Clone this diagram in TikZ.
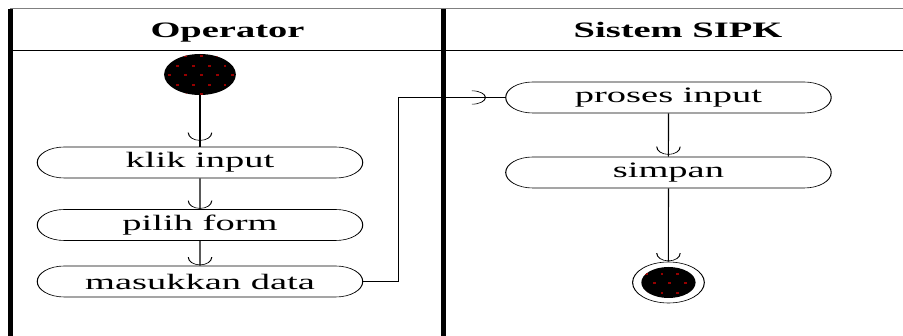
\documentclass[tikz,border=0pt]{standalone}
\usepackage{fontspec}
\setmainfont{Liberation Serif}
\usetikzlibrary{shapes.misc,arrows.meta,decorations.markings}

\definecolor{merah}{RGB}{150,0,0}

% red dots on the black start/end discs
\newcommand\titikmerah{%
  \foreach \r in {-3,...,3}{
    \foreach \c in {-4,...,4}{
      \fill[merah] ([xshift={\c*9pt+mod(\r,2)*4.5pt}, yshift=\r*9.5pt]path picture bounding box.center) rectangle ++(1.6pt,-1.8pt);
    }
  }%
}

\begin{document}
\begin{tikzpicture}[x=1pt, y=-1pt,
    aksi/.style={rounded rectangle, draw, line width=0.6pt, minimum width=186pt, minimum height=31pt, inner sep=0pt, font=\fontsize{22}{26}\selectfont},
    judul/.style={font=\bfseries\fontsize{22}{26}\selectfont, anchor=base},
    mulai/.style={circle, fill=black, minimum size=41pt, inner sep=0pt, path picture={\titikmerah}},
    akhir/.style={circle, draw, line width=0.6pt, minimum size=41pt, inner sep=0pt,
        path picture={\fill[black] (path picture bounding box.center) circle (15.5pt);
                      \clip (path picture bounding box.center) circle (15.5pt); \titikmerah}},
    flow/.style={line width=0.6pt, postaction={decorate},
        decoration={markings, mark=at position -#1 with {\arrow{Arc Barb[width=14pt,length=8pt]}}}},
    flow/.default=0.5pt]

    \useasboundingbox (0,0) rectangle (903,336);

    \begin{scope}[transform canvas={xscale=1.75}, x=0.5714pt]

        % swimlanes
        \draw[gray, line width=1pt] (10,9) -- (903,9);
        \draw[line width=0.8pt] (11,50) -- (903,50);
        \draw[line width=2.9pt] (10.8,9) -- (10.8,336);
        \draw[line width=3.2pt] (443.5,9) -- (443.5,336);

        \node[judul] (operator) at (227.5,38) {Operator};
        \node[judul] (sistem) at (678,38) {Sistem SIPK};

        \node[mulai] (start) at (200,74.5) {};
        \node[aksi] (klik) at (200,162.5) {klik input};
        \node[aksi] (pilih) at (200,225) {pilih form};
        \node[aksi] (masukkan) at (200,281.5) {masukkan data};

        \node[aksi] (proses) at (668.5,97.5) {proses input};
        \node[aksi] (simpan) at (668.5,172.5) {simpan};
        \node[akhir] (selesai) at (668.5,282.5) {};

        \draw[flow=6pt] (start) -- (klik);
        \draw[flow] (klik) -- (pilih);
        \draw[flow] (pilih) -- (masukkan);
        \draw[flow=11pt] (masukkan.east) -- ++(35,0) |- (proses.west);
        \draw[flow=2pt] (proses) -- (simpan);
        \draw[flow] (simpan) -- (selesai);

    \end{scope}
\end{tikzpicture}
\end{document}
